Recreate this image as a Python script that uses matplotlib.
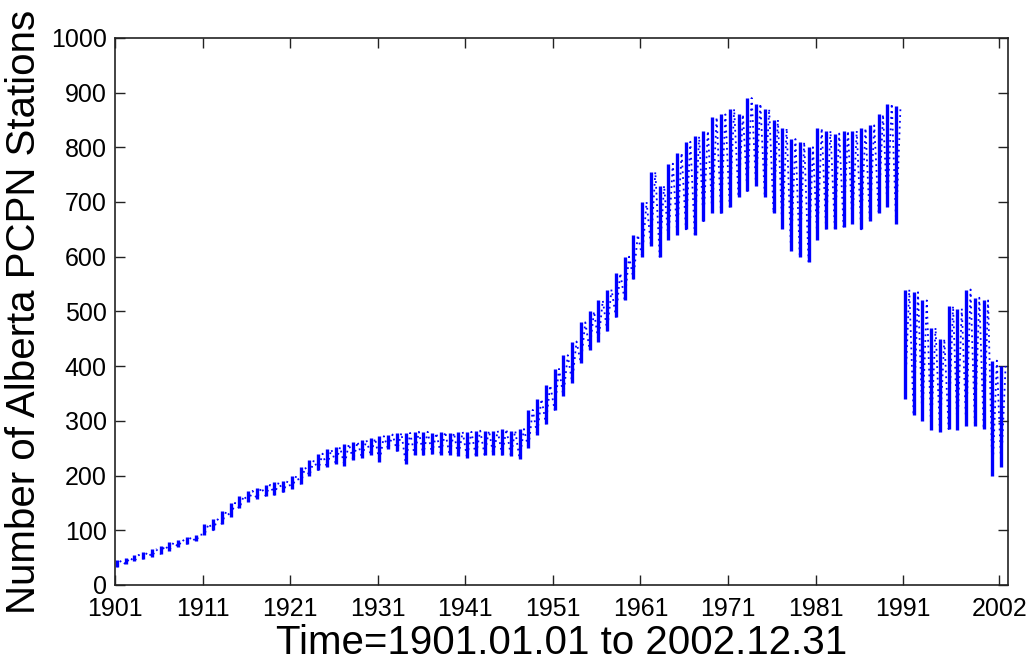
import matplotlib
matplotlib.use("Agg")
import matplotlib.pyplot as plt
import numpy as np

# yearly low / high number of stations
years = np.arange(1901, 2003)
low = [33, 38, 43, 48, 52, 57, 63, 70, 75, 80,          # 1901-1910
       92, 100, 112, 125, 140, 152, 158, 163, 165, 170,  # 1911-1920
       175, 185, 200, 210, 215, 222, 218, 228, 232, 238,  # 1921-1930
       225, 248, 245, 222, 238, 238, 240, 238, 238, 235,  # 1931-1940
       232, 235, 238, 238, 238, 236, 230, 250, 275, 295,  # 1941-1950
       320, 345, 370, 405, 430, 445, 465, 490, 520, 560,  # 1951-1960
       600, 620, 600, 630, 640, 650, 640, 665, 680, 680,  # 1961-1970
       690, 710, 720, 730, 710, 680, 650, 610, 600, 590,  # 1971-1980
       630, 650, 650, 655, 660, 650, 665, 680, 690, 660,  # 1981-1990
       340, 310, 300, 283, 280, 285, 283, 290, 290, 285,  # 1991-2000
       200, 215]                                          # 2001-2002
high = [45, 50, 55, 60, 65, 72, 78, 83, 88, 92,
        112, 120, 135, 150, 163, 172, 178, 183, 188, 190,
        200, 215, 228, 240, 248, 252, 258, 262, 265, 268,
        272, 275, 278, 278, 280, 280, 278, 280, 278, 280,
        280, 282, 282, 282, 285, 282, 285, 320, 340, 365,
        395, 420, 445, 480, 500, 520, 540, 570, 600, 640,
        700, 755, 730, 770, 790, 810, 820, 830, 855, 860,
        870, 860, 890, 880, 870, 850, 835, 815, 810, 800,
        835, 830, 825, 830, 830, 835, 840, 860, 880, 875,
        540, 535, 520, 470, 450, 510, 505, 540, 525, 520,
        410, 400]
gap_year = 1991  # no data between the old and new network

xs, ys = [], []
for yr, lo, hi in zip(years, low, high):
    if yr == gap_year:
        xs.append(np.nan)
        ys.append(np.nan)
    xs += [yr + 0.2, yr + 0.7]
    ys += [lo, hi]

blue = (0, 0, 1)
fig = plt.figure(figsize=(10.29, 6.64), dpi=100)
ax = fig.add_axes([0.1118, 0.119, 0.868, 0.824])
ax.vlines(years + 0.2, low, high, color=blue, lw=2.4)
ax.plot(xs, ys, color=blue, lw=1.3, ls=(0, (1.0, 2.2)))

ax.set_xlim(1901, 2003)
ax.set_ylim(0, 1000)
ax.set_xticks([1901, 1911, 1921, 1931, 1941, 1951, 1961, 1971, 1981, 1991, 2002])
ax.set_yticks(np.arange(0, 1001, 100))
ax.tick_params(direction="in", length=7, width=1, top=True, right=True,
               labelsize=18, colors="#222222", labelcolor="black")
ax.tick_params(axis="x", pad=9)
ax.tick_params(axis="y", pad=6)
for lab in ax.get_xticklabels() + ax.get_yticklabels():
    lab.set_family(["Liberation Sans Narrow", "Liberation Sans"])
for s in ax.spines.values():
    s.set_linewidth(1.2)
    s.set_color("#222222")

ax.set_xlabel("Time=1901.01.01 to 2002.12.31", fontsize=29,
              family="Liberation Sans", labelpad=2)
ax.set_ylabel("Number of Alberta PCPN Stations", fontsize=29,
              family="Liberation Sans", labelpad=6)

fig.savefig("out.png", dpi=100)
